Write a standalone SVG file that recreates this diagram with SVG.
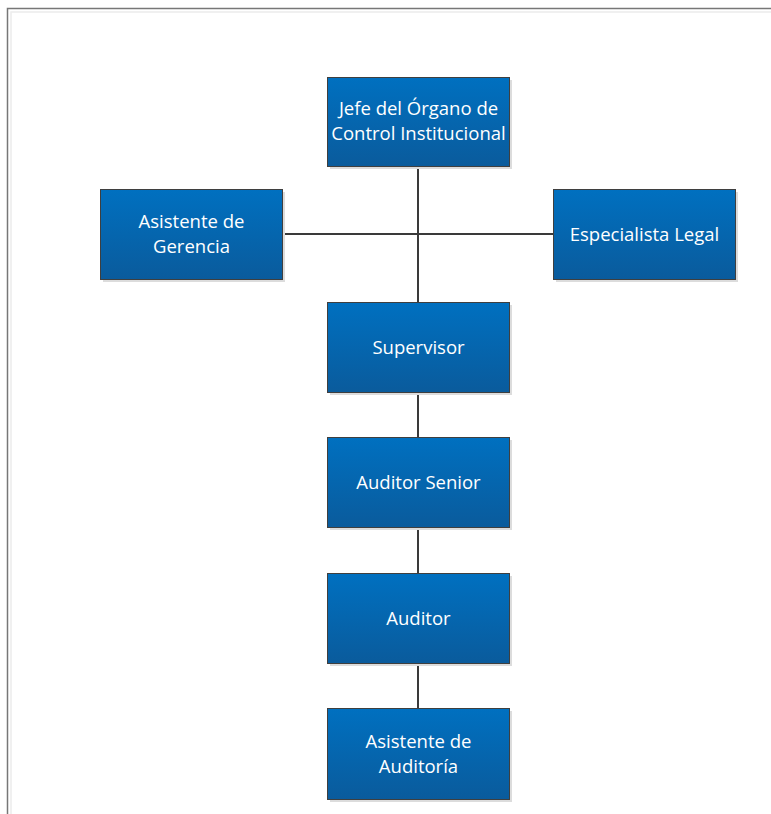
<svg xmlns="http://www.w3.org/2000/svg" width="771" height="814" viewBox="0 0 771 814">
<defs>
<linearGradient id="g" x1="0" y1="0" x2="0" y2="1">
<stop offset="0" stop-color="#0070c0"/>
<stop offset="1" stop-color="#0a5b9c"/>
</linearGradient>
<style>
.box{fill:url(#g);stroke:#3f3f3f;stroke-width:1}
.sh{fill:#dcdcdc}
.t{font-family:"Open Sans","Noto Sans",sans-serif;font-size:18.5px;fill:#ffffff;text-anchor:middle}
.c{stroke:#3a3a3a;stroke-width:2;fill:none}
</style>
</defs>
<rect width="771" height="814" fill="#ffffff"/>
<path d="M7.5 814 V8.5 H771" fill="none" stroke="#777" stroke-width="1.5"/>
<path d="M11 814 V12 H771" fill="none" stroke="#ececec" stroke-width="1.5"/>
<g id="connectors">
<line class="c" x1="418" y1="166" x2="418" y2="302"/>
<line class="c" x1="282" y1="234" x2="553" y2="234"/>
<line class="c" x1="418" y1="392" x2="418" y2="437"/>
<line class="c" x1="418" y1="527" x2="418" y2="573"/>
<line class="c" x1="418" y1="663" x2="418" y2="708"/>
</g>
<g id="jefe">
<rect class="sh" x="330" y="80" width="182" height="89"/>
<rect class="box" x="327.5" y="77.5" width="182" height="89"/>
<text class="t" x="418.5" y="115">Jefe del Órgano de</text>
<text class="t" x="418.5" y="140">Control Institucional</text>
</g>
<g id="asistente-gerencia">
<rect class="sh" x="103" y="192" width="182" height="90"/>
<rect class="box" x="100.5" y="189.5" width="182" height="90"/>
<text class="t" x="191.5" y="228">Asistente de</text>
<text class="t" x="191.5" y="253">Gerencia</text>
</g>
<g id="especialista-legal">
<rect class="sh" x="556" y="192" width="182" height="90"/>
<rect class="box" x="553.5" y="189.5" width="182" height="90"/>
<text class="t" x="644.5" y="241">Especialista Legal</text>
</g>
<g id="supervisor">
<rect class="sh" x="330" y="305" width="182" height="90"/>
<rect class="box" x="327.5" y="302.5" width="182" height="90"/>
<text class="t" x="418.5" y="354">Supervisor</text>
</g>
<g id="auditor-senior">
<rect class="sh" x="330" y="440" width="182" height="90"/>
<rect class="box" x="327.5" y="437.5" width="182" height="90"/>
<text class="t" x="418.5" y="489">Auditor Senior</text>
</g>
<g id="auditor">
<rect class="sh" x="330" y="576" width="182" height="90"/>
<rect class="box" x="327.5" y="573.5" width="182" height="90"/>
<text class="t" x="418.5" y="625">Auditor</text>
</g>
<g id="asistente-auditoria">
<rect class="sh" x="330" y="711" width="182" height="91"/>
<rect class="box" x="327.5" y="708.5" width="182" height="91"/>
<text class="t" x="418.5" y="748">Asistente de</text>
<text class="t" x="418.5" y="773">Auditoría</text>
</g>
</svg>
